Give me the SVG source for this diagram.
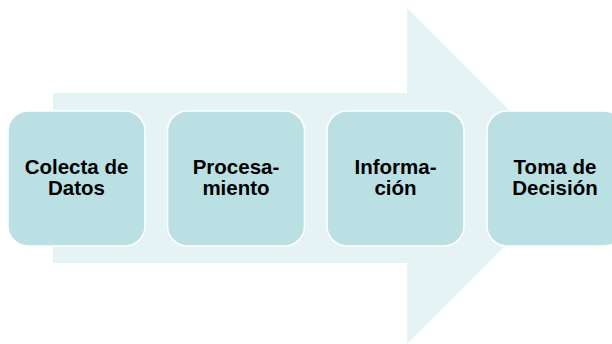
<svg xmlns="http://www.w3.org/2000/svg" width="612" height="344" viewBox="0 0 612 344">
<style>
.box{fill:#BBE0E4;stroke:#FFFFFF;stroke-width:1.5}
.lbl{font-family:"Liberation Sans",Arial,sans-serif;font-weight:bold;font-size:20.5px;fill:#000;text-anchor:middle}
</style>
<rect width="612" height="344" fill="#FFFFFF"/>
<g id="connectors">
<polygon points="53,93 407,93 407,8 575,176 407,344 407,263 53,263" fill="#E6F3F5"/>
</g>
<g id="n1"><rect class="box" x="8" y="111" width="137" height="135" rx="20"/>
<text class="lbl" x="76.5" y="174">Colecta de</text><text class="lbl" x="76.5" y="195">Datos</text></g>
<g id="n2"><rect class="box" x="167.5" y="111" width="137" height="135" rx="20"/>
<text class="lbl" x="236" y="174">Procesa-</text><text class="lbl" x="236" y="195">miento</text></g>
<g id="n3"><rect class="box" x="327" y="111" width="137" height="135" rx="20"/>
<text class="lbl" x="395.5" y="174">Informa-</text><text class="lbl" x="395.5" y="195">ción</text></g>
<g id="n4"><rect class="box" x="487" y="111" width="137" height="135" rx="20"/>
<text class="lbl" x="555" y="174">Toma de</text><text class="lbl" x="555" y="195">Decisión</text></g>
</svg>
